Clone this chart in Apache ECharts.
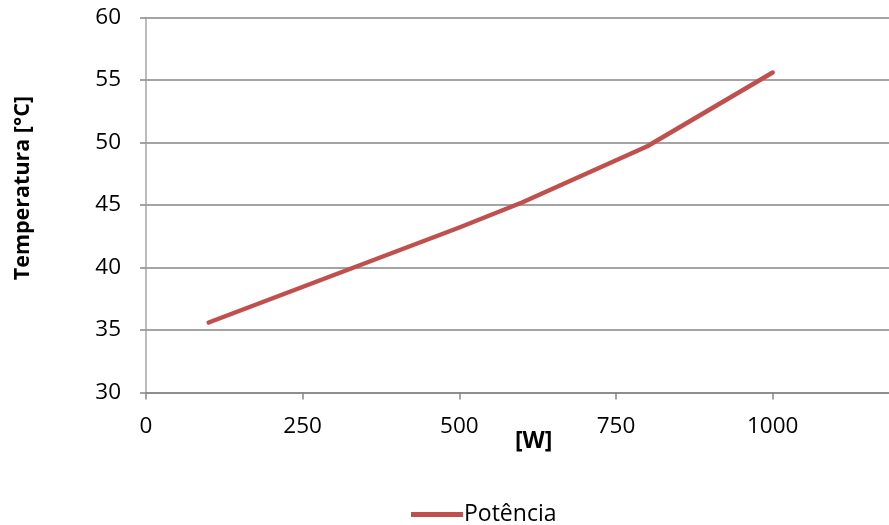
<!DOCTYPE html>
<html><head><meta charset="utf-8">
<script src="https://cdn.jsdelivr.net/npm/echarts@6/dist/echarts.min.js"></script>
<style>html,body{margin:0;padding:0;background:#fff}#c{width:889px;height:525px}</style>
</head><body><div id="c"></div>
<script>
const powerW = [100, 500, 600, 800, 1000];
const tempC = [35.6, 43.2, 45.2, 49.7, 55.6];
const seriesName = 'Potência';
const yTitle = 'Temperatura [°C]';
const xTitle = '[W]';

const chart = echarts.init(document.getElementById('c'), null, {renderer: 'canvas'});
const font = '"Open Sans", "Noto Sans", sans-serif';
chart.setOption({
  animation: false,
  backgroundColor: '#fff',
  grid: {left: 146, top: 17.5, width: 752, height: 375, outerBoundsMode: 'none', containLabel: false},
  xAxis: {
    type: 'value', min: 0, max: 1200, interval: 250,
    axisLine: {show: true, onZero: false, lineStyle: {color: '#868686', width: 1.5}},
    axisTick: {show: true, length: 7, lineStyle: {color: '#868686', width: 1.5}},
    axisLabel: {color: '#000', fontFamily: font, fontSize: 22.5, margin: 23,
      formatter: v => v > 1000 ? '' : String(v)},
    splitLine: {show: false}
  },
  yAxis: {
    type: 'value', min: 30, max: 60, interval: 5,
    axisLine: {show: true, lineStyle: {color: '#a6a6a6', width: 1.5}},
    axisTick: {show: true, length: 6, lineStyle: {color: '#868686', width: 1.5}},
    axisLabel: {color: '#000', fontFamily: font, fontSize: 22.5, margin: 25},
    splitLine: {show: true, lineStyle: {color: '#868686', width: 1.5}}
  },
  legend: {
    left: 411, top: 503, padding: 0, icon: 'rect', itemWidth: 52, itemHeight: 5, itemGap: 4,
    textStyle: {color: '#000', fontFamily: font, fontSize: 23, padding: [0, 0, 0, -4]},
    data: [seriesName]
  },
  graphic: [
    {type: 'text', left: 12, top: 96, rotation: Math.PI / 2,
      style: {text: yTitle, font: 'bold 21.5px ' + font, fill: '#000'}},
    {type: 'text', left: 515, top: 430,
      style: {text: xTitle, font: 'bold 23px ' + font, fill: '#000'}}
  ],
  series: [{
    name: seriesName, type: 'line',
    data: powerW.map((x, i) => [x, tempC[i]]),
    showSymbol: false, symbol: 'none',
    lineStyle: {color: '#C0504D', width: 4.5, cap: 'round', join: 'round'},
    itemStyle: {color: '#C0504D'}
  }]
});
</script></body></html>
